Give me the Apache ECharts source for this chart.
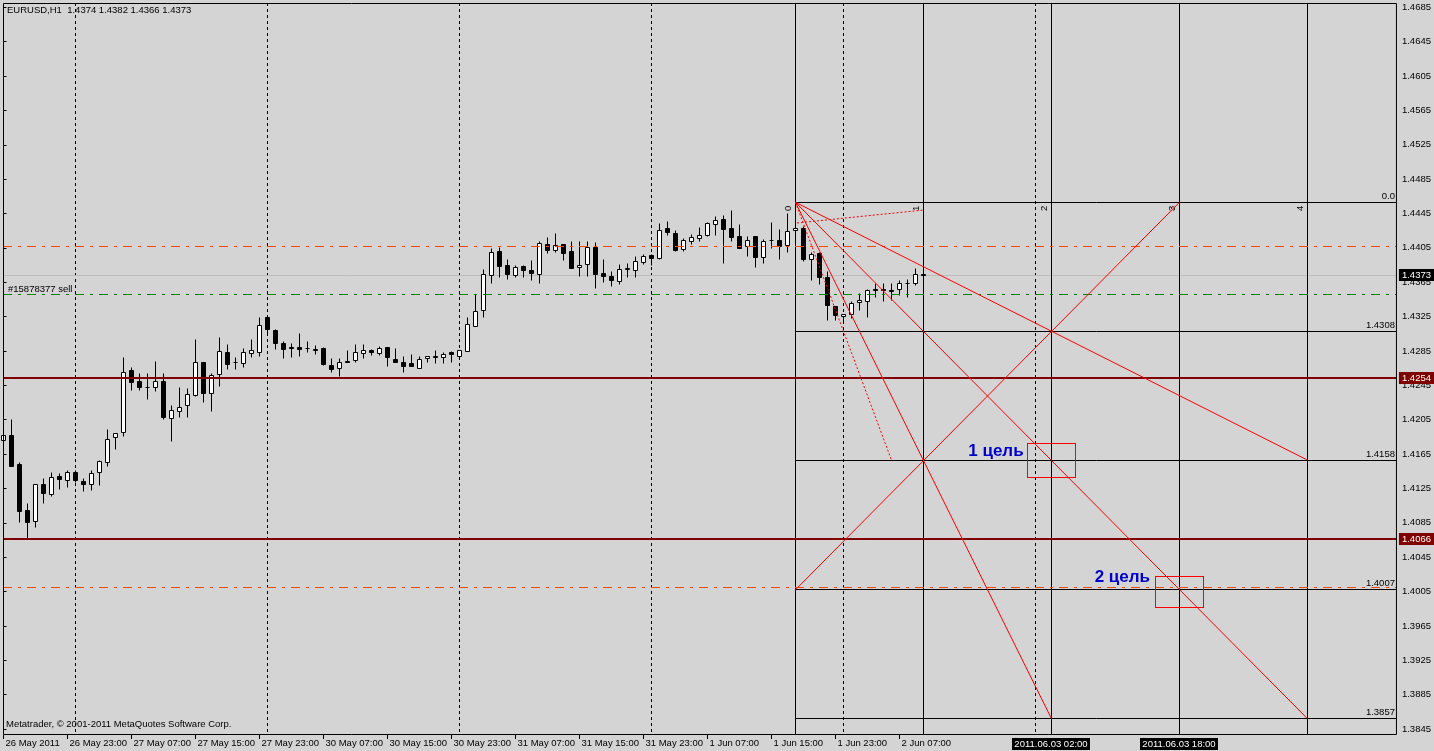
<!DOCTYPE html>
<html>
<head>
<meta charset="utf-8">
<title>EURUSD,H1</title>
<script src="https://cdn.jsdelivr.net/npm/echarts@6.0.0/dist/echarts.min.js"></script>
<style>
html,body{margin:0;padding:0;background:#d4d4d4;overflow:hidden;}
#chart{width:1434px;height:751px;}
</style>
</head>
<body>
<div id="chart"></div>
<script>
// ---------------- data ----------------
const opens = [1.4181,1.4187,1.4153,1.4099,1.4086,1.4129,1.4118,1.4139,1.4134,1.4144,
1.4133,1.4130,1.4144,1.4155,1.4184,1.4190,1.4262,1.4250,1.4243,1.4243,
1.4250,1.4206,1.4215,1.4222,1.4233,1.4272,1.4236,1.4258,1.4283,1.4272,
1.4270,1.4282,1.4283,1.4324,1.4309,1.4294,1.4289,1.4289,1.4288,1.4287,
1.4288,1.4268,1.4265,1.4273,1.4274,1.4282,1.4286,1.4282,1.4289,1.4275,
1.4272,1.4270,1.4265,1.4276,1.4279,1.4277,1.4283,1.4279,1.4284,1.4314,
1.4332,1.4373,1.4401,1.4384,1.4373,1.4383,1.4379,1.4374,1.4409,1.4402,
1.4409,1.4401,1.4382,1.4386,1.4405,1.4375,1.4372,1.4366,1.4380,1.4379,
1.4388,1.4396,1.4393,1.4427,1.4422,1.4403,1.4412,1.4416,1.4419,1.4432,
1.4438,1.4428,1.4418,1.4406,1.4418,1.4394,1.4413,1.4414,1.4408,1.4425,
1.4428,1.4391,1.4398,1.4371,1.4337,1.4325,1.4327,1.4341,1.4343,1.4356,
1.4356,1.4355,1.4356,1.4363,1.4364,1.4374];
const highs = [1.4201,1.4205,1.4155,1.4107,1.4130,1.4137,1.4144,1.4142,1.4146,1.4146,
1.4137,1.4146,1.4158,1.4194,1.4189,1.4277,1.4266,1.4259,1.4259,1.4273,
1.4259,1.4221,1.4243,1.4241,1.4298,1.4272,1.4259,1.4301,1.4292,1.4277,
1.4288,1.4298,1.4324,1.4326,1.4310,1.4296,1.4294,1.4305,1.4296,1.4291,
1.4289,1.4276,1.4276,1.4286,1.4293,1.4292,1.4287,1.4290,1.4289,1.4288,
1.4278,1.4281,1.4279,1.4279,1.4285,1.4283,1.4284,1.4286,1.4324,1.4351,
1.4380,1.4404,1.4405,1.4391,1.4385,1.4384,1.4390,1.4412,1.4417,1.4422,
1.4409,1.4412,1.4412,1.4412,1.4411,1.4391,1.4378,1.4386,1.4387,1.4395,
1.4397,1.4397,1.4433,1.4436,1.4425,1.4416,1.4421,1.4429,1.4435,1.4442,
1.4443,1.4448,1.4432,1.4418,1.4418,1.4415,1.4435,1.4426,1.4445,1.4440,
1.4430,1.4400,1.4400,1.4378,1.4337,1.4328,1.4342,1.4352,1.4356,1.4363,
1.4363,1.4364,1.4367,1.4368,1.4381,1.4382];
const lows = [1.4161,1.4150,1.4085,1.4067,1.4080,1.4108,1.4116,1.4124,1.4126,1.4132,
1.4122,1.4123,1.4128,1.4150,1.4170,1.4186,1.4239,1.4239,1.4229,1.4238,
1.4205,1.4180,1.4207,1.4207,1.4232,1.4225,1.4214,1.4244,1.4264,1.4264,
1.4266,1.4277,1.4278,1.4303,1.4287,1.4276,1.4277,1.4278,1.4283,1.4281,
1.4268,1.4260,1.4255,1.4271,1.4271,1.4276,1.4280,1.4280,1.4267,1.4271,
1.4260,1.4267,1.4265,1.4271,1.4270,1.4270,1.4271,1.4278,1.4284,1.4314,
1.4324,1.4363,1.4370,1.4368,1.4371,1.4371,1.4367,1.4364,1.4398,1.4400,
1.4390,1.4381,1.4372,1.4372,1.4358,1.4365,1.4360,1.4362,1.4370,1.4371,
1.4386,1.4385,1.4391,1.4419,1.4401,1.4401,1.4409,1.4412,1.4418,1.4419,
1.4387,1.4412,1.4404,1.4395,1.4382,1.4387,1.4404,1.4392,1.4400,1.4424,
1.4389,1.4367,1.4362,1.4320,1.4320,1.4318,1.4323,1.4332,1.4324,1.4347,
1.4343,1.4344,1.4349,1.4347,1.4361,1.4366];
const closes = [1.4187,1.4151,1.4098,1.4085,1.4130,1.4119,1.4138,1.4135,1.4144,1.4134,
1.4129,1.4142,1.4156,1.4182,1.4189,1.4260,1.4248,1.4242,1.4242,1.4250,
1.4207,1.4216,1.4219,1.4234,1.4272,1.4235,1.4257,1.4284,1.4269,1.4271,
1.4283,1.4285,1.4315,1.4310,1.4294,1.4287,1.4288,1.4287,1.4288,1.4286,
1.4269,1.4264,1.4272,1.4271,1.4283,1.4285,1.4283,1.4288,1.4277,1.4271,
1.4267,1.4267,1.4275,1.4279,1.4277,1.4281,1.4281,1.4286,1.4316,1.4331,
1.4374,1.4400,1.4383,1.4374,1.4382,1.4379,1.4375,1.4410,1.4402,1.4408,
1.4399,1.4381,1.4385,1.4405,1.4374,1.4372,1.4367,1.4380,1.4381,1.4389,
1.4395,1.4393,1.4425,1.4423,1.4402,1.4413,1.4417,1.4419,1.4433,1.4437,
1.4426,1.4417,1.4404,1.4413,1.4394,1.4412,1.4413,1.4407,1.4424,1.4428,
1.4391,1.4397,1.4370,1.4338,1.4326,1.4328,1.4340,1.4344,1.4355,1.4355,
1.4355,1.4354,1.4364,1.4363,1.4374,1.4373];

const xLabelIndex = [0,8,16,24,32,40,48,56,64,72,80,88,96,104,112];
const xLabelText = ['26 May 2011','26 May 23:00','27 May 07:00','27 May 15:00','27 May 23:00','30 May 07:00','30 May 15:00','30 May 23:00','31 May 07:00','31 May 15:00','31 May 23:00','1 Jun 07:00','1 Jun 15:00','1 Jun 23:00','2 Jun 07:00'];
const yTickValues = [1.3845,1.3885,1.3925,1.3965,1.4005,1.4045,1.4085,1.4125,1.4165,1.4205,1.4245,1.4285,1.4325,1.4365,1.4405,1.4445,1.4485,1.4525,1.4565,1.4605,1.4645,1.4685];
const daySeparators = [9,33,57,81,105,129];

const titleText = 'EURUSD,H1  1.4374 1.4382 1.4366 1.4373';
const copyrightText = 'Metatrader, \u00a9 2001-2011 MetaQuotes Software Corp.';

const bidLevel = [1.4373];
const orderLevels = [1.4406, 1.4351, 1.4010];
const orderLabel = '#15878377 sell';
const supportLevels = [1.4254, 1.4066];
const priceBadges = [1.4373, 1.4254, 1.4066];

const fibPrices = [1.4458, 1.4308, 1.4158, 1.4007, 1.3857];
const fibLabels = ['0.0', '1.4308', '1.4158', '1.4007', '1.3857'];
const fibTimes = [99, 115, 131, 147, 163];
const fibTimeLabels = ['0', '1', '2', '3', '4'];
const timeBadgeIndex = [131, 147];
const timeBadgeText = ['2011.06.03 02:00', '2011.06.03 18:00'];

const gannLines = [
  [99, 1.4458, 163, 1.4158],
  [99, 1.4458, 163, 1.3857],
  [99, 1.4458, 131, 1.3857],
  [99, 1.4007, 147, 1.4458],
  [99, 1.4458, 111, 1.4158],
  [99.2, 1.4434, 115, 1.4449]
];
const gannDashed = [false, false, false, false, true, true];

const targetBoxes = [[128, 1.4177, 134, 1.4137], [144, 1.4023, 150, 1.3987]];
const targetNames = ['1 цель', '2 цель'];
const targetNameAt = [[120.6, 1.4168], [136.4, 1.4021]];

// ---------------- styles ----------------
const FONT = '"Liberation Sans", Arial, sans-serif';
const f = (s, w) => (w ? w + ' ' : '') + s + 'px ' + FONT;
const snap = v => Math.round(v - 0.5) + 0.5;
const DASHDOT = [9, 6, 3, 6];
const orderStyles = [
  {color: '#ff4500', width: 1, dash: DASHDOT},
  {color: '#008000', width: 1, dash: DASHDOT},
  {color: '#ff4500', width: 1, dash: DASHDOT}
];
const supportStyle = {color: '#800000', width: 2, dash: null};
const bidStyle = {color: '#bcbcbc', width: 1, dash: null};
const priceBadgeColors = ['#000000', '#800000', '#800000'];

// ---------------- renderers ----------------
function renderCandle(params, api) {
  const i = api.value(0), o = api.value(1), h = api.value(2), l = api.value(3), c = api.value(4);
  const pO = api.coord([i, o]), pC = api.coord([i, c]), pH = api.coord([i, h]), pL = api.coord([i, l]);
  const x = snap(pO[0]);
  const yT = snap(Math.min(pO[1], pC[1])), yB = snap(Math.max(pO[1], pC[1]));
  const body = (yB - yT < 1)
    ? {type: 'line', shape: {x1: x - 2, y1: yT, x2: x + 2, y2: yT}, style: {stroke: '#000', lineWidth: 1}}
    : {type: 'rect', shape: {x: x - 2, y: yT, width: 4, height: yB - yT}, style: {fill: c >= o ? '#fff' : '#000', stroke: '#000', lineWidth: 1}};
  return {type: 'group', children: [
    {type: 'line', shape: {x1: x, y1: snap(pH[1]), x2: x, y2: snap(pL[1])}, style: {stroke: '#000', lineWidth: 1}},
    body
  ]};
}

function levelRenderer(styleOf, extra) {
  return function (params, api) {
    const cs = params.coordSys;
    const st = styleOf(params.dataIndex);
    const yRaw = api.coord([0, api.value(0)])[1];
    const y = st.width % 2 ? snap(yRaw) : Math.round(yRaw);
    const children = [{type: 'line', shape: {x1: cs.x, y1: y, x2: cs.x + cs.width, y2: y},
      style: {stroke: st.color, lineWidth: st.width, lineDash: st.dash}}];
    if (extra) extra(params.dataIndex, cs, y, children);
    return {type: 'group', children};
  };
}

function renderSeparator(params, api) {
  const cs = params.coordSys;
  const x = snap(api.coord([api.value(0), fibPrices[0]])[0]);
  return {type: 'line', shape: {x1: x, y1: cs.y, x2: x, y2: cs.y + cs.height},
    style: {stroke: '#000', lineWidth: 1, lineDash: [3, 3]}};
}

function renderFibTime(params, api) {
  const cs = params.coordSys;
  const k = params.dataIndex;
  const p = api.coord([api.value(0), fibPrices[0]]);
  const x = snap(p[0]);
  return {type: 'group', children: [
    {type: 'line', shape: {x1: x, y1: cs.y, x2: x, y2: cs.y + cs.height}, style: {stroke: '#000', lineWidth: 1}},
    {type: 'text', x: x - 7.5, y: p[1] + 6, rotation: Math.PI / 2,
      style: {text: fibTimeLabels[k], font: f(9.5), fill: '#000', align: 'center', verticalAlign: 'middle'}}
  ]};
}

function renderFibLevel(params, api) {
  const cs = params.coordSys;
  const k = params.dataIndex;
  const p = api.coord([fibTimes[0], api.value(0)]);
  const y = snap(p[1]);
  const xr = cs.x + cs.width;
  return {type: 'group', children: [
    {type: 'line', shape: {x1: snap(p[0]), y1: y, x2: xr, y2: y}, style: {stroke: '#000', lineWidth: 1}},
    {type: 'text', x: xr - 2, y: y - 1, style: {text: fibLabels[k], font: f(9.5), fill: '#000', align: 'right', verticalAlign: 'bottom'}}
  ]};
}

function renderGann(params, api) {
  const a = api.coord([api.value(0), api.value(1)]);
  const b = api.coord([api.value(2), api.value(3)]);
  return {type: 'line', shape: {x1: a[0], y1: a[1], x2: b[0], y2: b[1]},
    style: {stroke: '#ff0000', lineWidth: 1, lineDash: gannDashed[params.dataIndex] ? [2, 2] : null}};
}

function renderTarget(params, api) {
  const k = params.dataIndex;
  const a = api.coord([api.value(0), api.value(1)]);
  const b = api.coord([api.value(2), api.value(3)]);
  const t = api.coord(targetNameAt[k]);
  const x0 = Math.floor(a[0]), y0 = Math.floor(a[1]);
  const w = Math.round(b[0] - a[0]), h = Math.round(b[1] - a[1]);
  const edge = (x, y, ww, hh) => ({type: 'rect', shape: {x, y, width: ww, height: hh}, style: {fill: '#ff0000'}});
  return {type: 'group', children: [
    edge(x0, y0, w + 1, 1), edge(x0, y0 + h, w + 1, 1),
    edge(x0, y0, 1, h + 1), edge(x0 + w, y0, 1, h + 1),
    {type: 'text', x: t[0], y: t[1], style: {text: targetNames[k], font: f(17, 'bold'), fill: '#0000cc', align: 'left', verticalAlign: 'middle'}}
  ]};
}

function renderPriceBadge(params, api) {
  const cs = params.coordSys;
  const k = params.dataIndex;
  const v = api.value(0);
  const y = Math.round(api.coord([0, v])[1]);
  const x0 = cs.x + cs.width + 2;
  return {type: 'group', children: [
    {type: 'rect', shape: {x: x0, y: y - 6, width: 36, height: 12}, style: {fill: priceBadgeColors[k]}},
    {type: 'text', x: x0 + 3, y: y, style: {text: v.toFixed(4), font: f(9.5), fill: '#fff', align: 'left', verticalAlign: 'middle'}}
  ]};
}

function renderTimeBadge(params, api) {
  const cs = params.coordSys;
  const k = params.dataIndex;
  const x = Math.round(api.coord([api.value(0), fibPrices[0]])[0]);
  const y0 = cs.y + cs.height + 3;
  return {type: 'group', children: [
    {type: 'rect', shape: {x: x - 39, y: y0, width: 78, height: 12}, style: {fill: '#000'}},
    {type: 'text', x: x, y: y0 + 6, style: {text: timeBadgeText[k], font: f(9.5), fill: '#fff', align: 'center', verticalAlign: 'middle'}}
  ]};
}

function renderFrame(params) {
  const cs = params.coordSys;
  return {type: 'rect', shape: {x: cs.x + 0.5, y: cs.y + 0.5, width: cs.width - 1, height: cs.height - 1},
    style: {fill: 'none', stroke: '#000', lineWidth: 1}};
}

// ---------------- chart ----------------
const chart = echarts.init(document.getElementById('chart'), null, {renderer: 'canvas', width: 1434, height: 751});

const custom = (name, data, renderItem, encode, z) => ({
  name, type: 'custom', data, renderItem, encode, silent: true, z: z || 2, animation: false
});

chart.setOption({
  animation: false,
  backgroundColor: '#d4d4d4',
  grid: {left: 3, right: 37, top: 3, bottom: 16, show: false},
  xAxis: {
    type: 'value', min: -0.0625, max: 174.1875,
    axisLine: {show: false}, splitLine: {show: false},
    axisTick: {show: true, customValues: xLabelIndex, length: 4, lineStyle: {color: '#000'}},
    axisLabel: {customValues: xLabelIndex, formatter: v => xLabelText[xLabelIndex.indexOf(v)],
      align: 'left', margin: 3, padding: [0, 0, 0, 2], color: '#000', fontFamily: FONT, fontSize: 9.5}
  },
  yAxis: {
    type: 'value', position: 'right', min: 1.3838, max: 1.4690,
    axisLine: {show: false}, splitLine: {show: false},
    axisTick: {show: true, customValues: yTickValues, length: 3, lineStyle: {color: '#000'}},
    axisLabel: {customValues: yTickValues, formatter: v => v.toFixed(4), margin: 5,
      color: '#000', fontFamily: FONT, fontSize: 9.5}
  },
  graphic: [
    {type: 'text', left: 7, top: 5, silent: true, style: {text: titleText, font: f(9.5), fill: '#000'}},
    {type: 'text', left: 6, top: 719, silent: true, style: {text: copyrightText, font: f(9.5), fill: '#000'}}
  ],
  series: [
    custom('separators', daySeparators.map(v => [v]), renderSeparator, {x: 0}, 1),
    custom('bid', bidLevel.map(v => [v]), levelRenderer(() => bidStyle), {y: 0}, 1),
    custom('fibTime', fibTimes.map(v => [v]), renderFibTime, {x: 0}, 1),
    custom('fibLevels', fibPrices.map(v => [v]), renderFibLevel, {y: 0}, 1),
    custom('candles', opens.map((o, i) => [i, o, highs[i], lows[i], closes[i]]), renderCandle, {x: 0, y: [1, 2, 3, 4]}, 2),
    custom('support', supportLevels.map(v => [v]), levelRenderer(() => supportStyle), {y: 0}, 3),
    custom('orders', orderLevels.map(v => [v]), levelRenderer(k => orderStyles[k], (k, cs, y, ch) => {
      if (k === 1) ch.push({type: 'text', x: cs.x + 5, y: y - 5, style: {text: orderLabel, font: f(9.5), fill: '#000', align: 'left', verticalAlign: 'middle'}});
    }), {y: 0}, 3),
    custom('gann', gannLines, renderGann, {x: [0, 2], y: [1, 3]}, 4),
    custom('targets', targetBoxes, renderTarget, {x: [0, 2], y: [1, 3]}, 4),
    custom('frame', [[0]], renderFrame, {x: 0}, 5),
    custom('priceBadges', priceBadges.map(v => [v]), renderPriceBadge, {y: 0}, 6),
    custom('timeBadges', timeBadgeIndex.map(v => [v]), renderTimeBadge, {x: 0}, 6)
  ]
});
</script>
</body>
</html>
